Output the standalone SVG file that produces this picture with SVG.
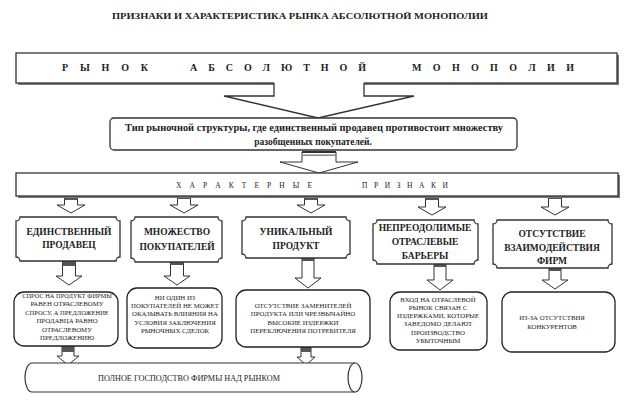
<svg xmlns="http://www.w3.org/2000/svg" width="625" height="420" viewBox="0 0 625 420" font-family="'Liberation Serif', 'DejaVu Serif', serif">
<style>
text{font-family:"Liberation Serif","DejaVu Serif",serif;fill:#222;}
.t{font-weight:bold;font-size:9px;}
.big{font-weight:bold;font-size:10px;}
.sp{font-size:7.5px;}
.fb{font-weight:bold;font-size:9.5px;text-anchor:middle;}
.cd{font-size:6.8px;text-anchor:middle;}
.box{fill:#fff;stroke:#333;stroke-width:1.3;}
.sh{fill:#777;}
.arr{fill:#fff;stroke:#333;stroke-width:1;stroke-linejoin:miter;}
.cap{fill:#555;}
.card{fill:#fff;stroke:#222;stroke-width:1.3;}
</style>
<rect width="625" height="420" fill="#fff"/>
<text class="t" x="112" y="19" textLength="376" lengthAdjust="spacingAndGlyphs">ПРИЗНАКИ И ХАРАКТЕРИСТИКА РЫНКА АБСОЛЮТНОЙ МОНОПОЛИИ</text>

<g id="market">
<rect class="sh" x="18" y="55" width="601" height="30"/>
<rect class="box" x="16" y="53" width="601" height="30"/>
<text class="big" x="62" y="71" textLength="86" lengthAdjust="spacing">Р Ы Н О К</text>
<text class="big" x="190" y="71" textLength="176" lengthAdjust="spacing">А Б С О Л Ю Т Н О Й</text>
<text class="big" x="412" y="71" textLength="162" lengthAdjust="spacing">М О Н О П О Л И И</text>
</g>

<g id="connectors">
<polygon points="274,82 274,96 224,96 318,118 414,96 364,96 364,82" fill="#fff" stroke="none"/>
<polyline points="274,83 274,96 224,96 318,118 414,96 364,96 364,83" fill="none" stroke="#333" stroke-width="1.3"/>

<polygon class="arr" points="302,152 302,162 280,162 319,173 358,162 336,162 336,152" stroke="#777"/>
<rect x="302" y="151" width="34" height="2" fill="#333"/>
<rect x="302" y="154.5" width="34" height="1.5" fill="#888"/>

<polygon class="arr" points="64.5,196 64.5,205 57,205 71,213 85,205 77.5,205 77.5,196"/><rect class="cap" x="64.5" y="196" width="13" height="4"/>
<polygon class="arr" points="177.5,196 177.5,205 170,205 184,213 198,205 190.5,205 190.5,196"/><rect class="cap" x="177.5" y="196" width="13" height="3"/>
<polygon class="arr" points="304.5,196 304.5,205 297,205 311,213 325,205 317.5,205 317.5,196"/><rect class="cap" x="304.5" y="196" width="13" height="4"/>
<polygon class="arr" points="425.5,196 425.5,207 418,207 432,215 446,207 438.5,207 438.5,196"/><rect class="cap" x="425.5" y="196" width="13" height="4"/>
<polygon class="arr" points="548.5,196 548.5,207 541,207 555,215 569,207 561.5,207 561.5,196"/><rect class="cap" x="548.5" y="196" width="13" height="3"/>

<polygon class="arr" points="62.5,261 62.5,276 56,276 69,285 82,276 75.5,276 75.5,261"/><rect class="cap" x="62.5" y="261" width="13" height="5"/>
<polygon class="arr" points="170.5,262 170.5,276 164,276 177,285 190,276 183.5,276 183.5,262"/><rect class="cap" x="170.5" y="262" width="13" height="3"/>
<polygon class="arr" points="302,258 302,278 295,278 308,288 321,278 314,278 314,258"/><rect class="cap" x="302" y="258" width="12" height="3"/>
<polygon class="arr" points="434,264 434,280 427,280 440,290 453,280 446,280 446,264"/><rect class="cap" x="434" y="264" width="12" height="3"/>
<polygon class="arr" points="549,268 549,280 542,280 555,289 568,280 561,280 561,268"/><rect class="cap" x="549" y="268" width="12" height="3"/>

<polygon class="arr" points="62,346 62,356 57,356 68,365 79,356 74,356 74,346"/><rect class="cap" x="62" y="346" width="12" height="6"/>
<polygon class="arr" points="301,347 301,357 297,357 306,365 315,357 311,357 311,347"/><rect class="cap" x="301" y="347" width="10" height="5"/>
</g>

<g id="type">
<rect class="box" x="110" y="118" width="407" height="32" rx="4"/>
<text class="t" x="125" y="131" textLength="378" lengthAdjust="spacingAndGlyphs" style="font-size:9.5px">Тип рыночной структуры, где единственный продавец противостоит множеству</text>
<text class="t" x="313" y="145" text-anchor="middle" style="font-size:9.5px">разобщенных покупателей.</text>
</g>

<g id="features">
<rect class="sh" x="18" y="175" width="602" height="23"/>
<rect class="box" x="16" y="173" width="602" height="23"/>
<text class="sp" x="176" y="188" textLength="136" lengthAdjust="spacing">Х А Р А К Т Е Р Н Ы Е</text>
<text class="sp" x="362" y="188" textLength="86" lengthAdjust="spacing">П Р И З Н А К И</text>
</g>

<g id="f1">
<path class="box" d="M20,217 H116 A4,4 0 0 0 120,221 V257 A4,4 0 0 0 116,261 H20 A4,4 0 0 0 16,257 V221 A4,4 0 0 0 20,217 Z"/>
<text class="fb" x="69" y="235">ЕДИНСТВЕННЫЙ</text>
<text class="fb" x="69" y="248">ПРОДАВЕЦ</text>
</g>
<g id="f2">
<path class="box" d="M135,217 H218 A4,4 0 0 0 222,221 V258 A4,4 0 0 0 218,262 H135 A4,4 0 0 0 131,258 V221 A4,4 0 0 0 135,217 Z"/>
<text class="fb" x="177" y="235">МНОЖЕСТВО</text>
<text class="fb" x="177" y="250">ПОКУПАТЕЛЕЙ</text>
</g>
<g id="f3">
<path class="box" d="M246,217 H346 A4,4 0 0 0 350,221 V254 A4,4 0 0 0 346,258 H246 A4,4 0 0 0 242,254 V221 A4,4 0 0 0 246,217 Z"/>
<text class="fb" x="296" y="235">УНИКАЛЬНЫЙ</text>
<text class="fb" x="296" y="249">ПРОДУКТ</text>
</g>
<g id="f4">
<path class="box" d="M377,220 H474 A4,4 0 0 0 478,224 V260 A4,4 0 0 0 474,264 H377 A4,4 0 0 0 373,260 V224 A4,4 0 0 0 377,220 Z"/>
<text class="fb" x="425" y="231">НЕПРЕОДОЛИМЫЕ</text>
<text class="fb" x="425" y="245">ОТРАСЛЕВЫЕ</text>
<text class="fb" x="425" y="259">БАРЬЕРЫ</text>
</g>
<g id="f5">
<path class="box" d="M497,220 H608 A4,4 0 0 0 612,224 V264 A4,4 0 0 0 608,268 H497 A4,4 0 0 0 493,264 V224 A4,4 0 0 0 497,220 Z"/>
<text class="fb" x="552" y="237">ОТСУТСТВИЕ</text>
<text class="fb" x="552" y="251">ВЗАИМОДЕЙСТВИЯ</text>
<text class="fb" x="552" y="264">ФИРМ</text>
</g>

<g id="c1">
<rect class="card" x="14" y="292" width="104" height="54" rx="10"/>
<text class="cd" x="67" y="298" style="font-size:6.4px">СПРОС НА ПРОДУКТ ФИРМЫ</text>
<text class="cd" x="67" y="306">РАВЕН ОТРАСЛЕВОМУ</text>
<text class="cd" x="67" y="315" style="font-size:6.5px">СПРОСУ, А ПРЕДЛОЖЕНИЕ</text>
<text class="cd" x="67" y="323">ПРОДАВЦА РАВНО</text>
<text class="cd" x="67" y="332">ОТРАСЛЕВОМУ</text>
<text class="cd" x="67" y="340">ПРЕДЛОЖЕНИЮ</text>
</g>
<g id="c2">
<rect class="card" x="127" y="288" width="95" height="60" rx="10"/>
<text class="cd" x="175" y="300">НИ ОДИН ИЗ</text>
<text class="cd" x="175" y="308">ПОКУПАТЕЛЕЙ НЕ МОЖЕТ</text>
<text class="cd" x="175" y="316">ОКАЗЫВАТЬ ВЛИЯНИЯ НА</text>
<text class="cd" x="175" y="325">УСЛОВИЯ ЗАКЛЮЧЕНИЯ</text>
<text class="cd" x="175" y="333">РЫНОЧНЫХ СДЕЛОК</text>
</g>
<g id="c3">
<rect class="card" x="236" y="290" width="134" height="57" rx="10"/>
<text class="cd" x="303" y="308">ОТСУТСТВИЕ ЗАМЕНИТЕЛЕЙ</text>
<text class="cd" x="303" y="316">ПРОДУКТА ИЛИ ЧРЕЗВЫЧАЙНО</text>
<text class="cd" x="303" y="325">ВЫСОКИЕ ИЗДЕРЖКИ</text>
<text class="cd" x="303" y="333">ПЕРЕКЛЮЧЕНИЯ ПОТРЕБИТЕЛЯ</text>
</g>
<g id="c4">
<rect class="card" x="390" y="292" width="97" height="58" rx="10"/>
<text class="cd" x="438" y="302">ВХОД НА ОТРАСЛЕВОЙ</text>
<text class="cd" x="438" y="310">РЫНОК СВЯЗАН С</text>
<text class="cd" x="438" y="318">ИЗДЕРЖКАМИ, КОТОРЫЕ</text>
<text class="cd" x="438" y="326">ЗАВЕДОМО ДЕЛАЮТ</text>
<text class="cd" x="438" y="335">ПРОИЗВОДСТВО</text>
<text class="cd" x="438" y="343">УБЫТОЧНЫМ</text>
</g>
<g id="c5">
<rect class="card" x="502" y="292" width="113" height="60" rx="10"/>
<text class="cd" x="552" y="320">ИЗ-ЗА ОТСУТСТВИЯ</text>
<text class="cd" x="552" y="329">КОНКУРЕНТОВ</text>
</g>

<g id="result">
<path d="M355,363 H32 A7,14.5 0 0 0 32,392 H355" fill="#fff" stroke="#333" stroke-width="1.2"/>
<ellipse cx="355" cy="377.5" rx="7" ry="14.5" fill="#fff" stroke="#333" stroke-width="1.2"/>
<text x="98" y="381" style="font-size:7.5px" textLength="182" lengthAdjust="spacingAndGlyphs">ПОЛНОЕ ГОСПОДСТВО ФИРМЫ НАД РЫНКОМ</text>
</g>
</svg>
